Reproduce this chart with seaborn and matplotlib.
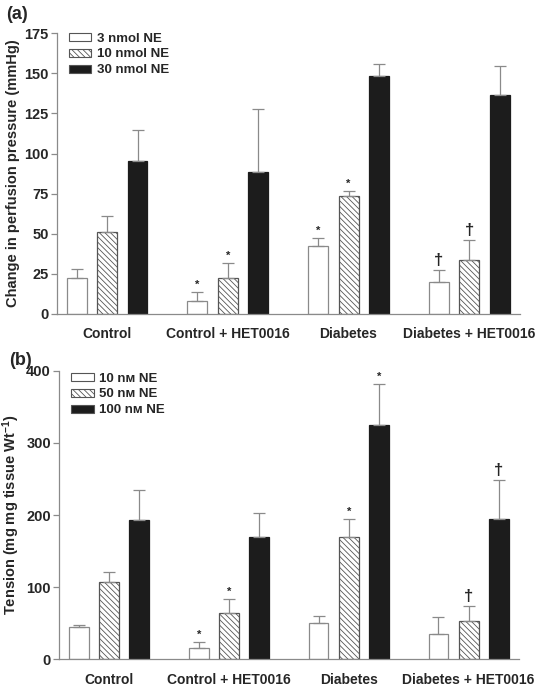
import numpy as np
import pandas as pd
import matplotlib
matplotlib.use("Agg")
import matplotlib.pyplot as plt
import seaborn as sns
from matplotlib.patches import Patch

# group labels shared by both panels
groups = ["Control", "Control + HET0016", "Diabetes", "Diabetes + HET0016"]

# panel (a): perfusion pressure, mean and upper SEM
doses_a = ["3 nmol NE", "10 nmol NE", "30 nmol NE"]
mean_a_low = [22.2, 8.3, 42.3, 19.7]
mean_a_mid = [51.3, 22.2, 73.3, 33.6]
mean_a_high = [95.1, 88.6, 148.2, 136.6]
err_a_low = [5.6, 5.2, 5.2, 7.5]
err_a_mid = [9.7, 9.4, 3.3, 12.5]
err_a_high = [19.3, 38.9, 7.5, 17.8]
mark_a_low = ["", "*", "*", "†"]
mark_a_mid = ["", "*", "*", "†"]
mark_a_high = ["", "", "", ""]

# panel (b): tension, mean and upper SEM
doses_b = ["10 nᴍ NE", "50 nᴍ NE", "100 nᴍ NE"]
mean_b_low = [44.8, 15.2, 50.3, 35.1]
mean_b_mid = [106.7, 63.7, 170.0, 53.6]
mean_b_high = [192.6, 169.0, 325.2, 194.9]
err_b_low = [3.2, 8.4, 9.3, 23.1]
err_b_mid = [13.9, 19.4, 24.5, 20.3]
err_b_high = [42.5, 33.8, 56.3, 54.1]
mark_b_low = ["", "*", "", ""]
mark_b_mid = ["", "*", "*", "†"]
mark_b_high = ["", "", "*", "†"]

sns.set_theme(style="white")
plt.rcParams["font.family"] = ["Liberation Sans", "DejaVu Sans"]
plt.rcParams["font.weight"] = "bold"
plt.rcParams["mathtext.default"] = "regular"
plt.rcParams["hatch.linewidth"] = 0.6

GRAY = "#8a8a8a"
fills = ["white", "white", "#1c1c1c"]
hatches = ["", "\\\\\\\\\\\\", ""]


def draw_panel(ax, doses, means, errs, marks, yticks, ylabel, tag, ylim,
               tag_y, leg_y):
    rows = []
    for dose, m in zip(doses, means):
        for g, v in zip(groups, m):
            rows.append({"group": g, "dose": dose, "value": v})
    df = pd.DataFrame(rows)

    sns.barplot(data=df, x="group", y="value", hue="dose", order=groups,
                hue_order=doses, errorbar=None, width=0.756, gap=0.345,
                palette=fills, edgecolor=GRAY, linewidth=0.9, ax=ax,
                legend=False)

    bar_conts = list(ax.containers)
    for i, cont in enumerate(bar_conts):
        for bar, e, mk in zip(cont, errs[i], marks[i]):
            bar.set_facecolor(fills[i])
            bar.set_hatch(hatches[i])
            bar.set_edgecolor(GRAY if i < 2 else "#1c1c1c")
            if i == 1:
                bar.set_edgecolor("#555555")
            xc = bar.get_x() + bar.get_width() / 2
            top = bar.get_height()
            ax.errorbar(xc, top, yerr=[[0], [e]], fmt="none", ecolor=GRAY,
                        elinewidth=0.9, capsize=4, capthick=0.9, zorder=1)
            if mk:
                fs = 8 if mk == "*" else 12
                ax.annotate(mk, (xc, top + e), xytext=(0, 1.5),
                            textcoords="offset points", ha="center",
                            va="bottom", fontsize=fs, fontweight="bold")

    handles = [Patch(facecolor=fills[i], edgecolor="#555555", hatch=hatches[i],
                     linewidth=0.8) for i in range(3)]
    ax.legend(handles, doses, loc="upper left", bbox_to_anchor=(0.0, leg_y),
              frameon=False, handlelength=1.7, handleheight=0.55,
              labelspacing=0.3, handletextpad=0.4,
              prop={"weight": "bold", "size": 9.5})

    ax.set_xlim(-0.415, 3.42)
    ax.set_ylim(*ylim)
    ax.set_yticks(yticks)
    ax.set_xlabel("")
    ax.set_ylabel(ylabel, fontsize=10.5, fontweight="bold", labelpad=3)
    sns.despine(ax=ax)
    for side in ["left", "bottom"]:
        ax.spines[side].set_color(GRAY)
        ax.spines[side].set_linewidth(0.9)
    ax.tick_params(axis="y", left=True, length=4, width=0.9, color=GRAY,
                   labelsize=10.5, pad=2)
    ax.tick_params(axis="x", bottom=False, labelsize=10, pad=3.5)
    for lab in ax.get_xticklabels() + ax.get_yticklabels():
        lab.set_fontweight("bold")
    ax.text(-0.11, tag_y, tag, transform=ax.transAxes, fontsize=13,
            fontweight="bold", ha="left", va="bottom")


fig = plt.figure(figsize=(5.44, 6.93), dpi=100)
ax_a = fig.add_axes([0.1048, 0.547, 0.851, 0.405])
ax_b = fig.add_axes([0.109, 0.0486, 0.845, 0.4164])

draw_panel(ax_a, doses_a, [mean_a_low, mean_a_mid, mean_a_high],
           [err_a_low, err_a_mid, err_a_high],
           [mark_a_low, mark_a_mid, mark_a_high],
           [0, 25, 50, 75, 100, 125, 150, 175],
           "Change in perfusion pressure (mmHg)", "(a)", (0, 175),
           1.035, 1.045)
draw_panel(ax_b, doses_b, [mean_b_low, mean_b_mid, mean_b_high],
           [err_b_low, err_b_mid, err_b_high],
           [mark_b_low, mark_b_mid, mark_b_high],
           [0, 100, 200, 300, 400],
           r"Tension (mg mg tissue Wt$^{-1}$)", "(b)", (0, 400),
           1.005, 1.035)

fig.savefig("out.png", dpi=100)
